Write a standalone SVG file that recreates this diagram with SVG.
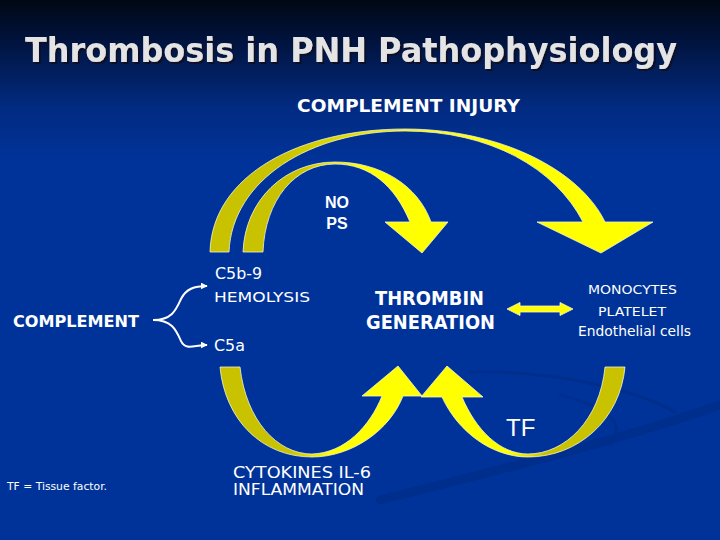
<svg xmlns="http://www.w3.org/2000/svg" width="720" height="540" viewBox="0 0 720 540">
  <defs>
    <linearGradient id="bg" x1="0" y1="0" x2="0" y2="1">
      <stop offset="0" stop-color="#000814"/>
      <stop offset="0.08" stop-color="#011440"/>
      <stop offset="0.2" stop-color="#022b82"/>
      <stop offset="0.3" stop-color="#003399"/>
      <stop offset="1" stop-color="#003399"/>
    </linearGradient>
    <linearGradient id="gOuter" gradientUnits="userSpaceOnUse" x1="280" y1="0" x2="440" y2="0">
      <stop offset="0" stop-color="#c9c200"/>
      <stop offset="1" stop-color="#ffff00"/>
    </linearGradient>
    <linearGradient id="gInner" gradientUnits="userSpaceOnUse" x1="300" y1="0" x2="360" y2="0">
      <stop offset="0" stop-color="#c9c200"/>
      <stop offset="1" stop-color="#ffff00"/>
    </linearGradient>
    <linearGradient id="gBL" gradientUnits="userSpaceOnUse" x1="290" y1="0" x2="330" y2="0">
      <stop offset="0" stop-color="#c9c200"/>
      <stop offset="1" stop-color="#ffff00"/>
    </linearGradient>
    <linearGradient id="gBR" gradientUnits="userSpaceOnUse" x1="510" y1="0" x2="545" y2="0">
      <stop offset="0" stop-color="#ffff00"/>
      <stop offset="1" stop-color="#c9c200"/>
    </linearGradient>
    <filter id="shadow" x="-5%" y="-20%" width="110%" height="150%">
      <feDropShadow dx="2" dy="2" stdDeviation="0.6" flood-color="#101020" flood-opacity="0.9"/>
    </filter>
    <marker id="wh" viewBox="0 0 10 10" refX="9" refY="5" markerWidth="7" markerHeight="7" orient="auto" markerUnits="userSpaceOnUse">
      <path d="M0,0 L10,5 L0,10 Z" fill="#ffffff"/>
    </marker>
    <style>
      .arr { stroke: #f4f4d0; stroke-width: 0.8; stroke-linejoin: miter; }
      .t { fill: #ffffff; font-family: "DejaVu Sans", Verdana, sans-serif; }
      .a { fill: #ffffff; font-family: "Liberation Sans", Arial, sans-serif; }
      .b { font-weight: bold; }
      .m { text-anchor: middle; }
    </style>
  </defs>

  <rect width="720" height="540" fill="url(#bg)"/>
  <!-- background swooshes -->
  <g id="swoosh" fill="none" stroke="#002c86" stroke-linecap="round">
    <path d="M 380,500 C 500,470 620,440 720,405" stroke-width="9" opacity="0.7"/>
    <path d="M 470,372 C 560,370 640,392 675,412" stroke-width="3" opacity="0.6"/>
    <path d="M 560,395 C 600,405 630,420 610,445" stroke-width="3" opacity="0.5"/>
  </g>

  <g id="title">
    <text x="25" y="62" font-family="DejaVu Sans, Verdana, sans-serif" font-weight="bold" font-size="34" fill="#e4e4e4" filter="url(#shadow)" textLength="652" lengthAdjust="spacingAndGlyphs">Thrombosis in PNH Pathophysiology</text>
  </g>

  <g id="connectors">
    <path id="outer-arrow" class="arr" fill="url(#gOuter)" d="M 210,252 C 212,175 300,129 405,129 C 500,129 580,170 605,222 L 653,222 L 601,253 L 537,222 L 583,222 C 555,168 490,131 405,131 C 310,131 232,180 229,252 Z"/>
    <path id="inner-arrow" class="arr" fill="url(#gInner)" d="M 243,252 C 245,200 285,162 335,162 C 380,162 418,185 431,222 L 448,222 L 422,253 L 385,222 L 410,222 C 395,186 370,164 335,164 C 295,164 265,200 263,252 Z"/>
    <path id="bottom-left-arrow" class="arr" fill="url(#gBL)" d="M 220,367 C 225,420 262,457 312,457 C 352,457 390,430 403,396 L 422,396 L 398,366 L 362,396 L 382,396 C 370,426 345,453 312,454 C 277,454 246,420 240,367 Z"/>
    <path id="bottom-right-arrow" class="arr" fill="url(#gBR)" d="M 442,397 C 458,432 492,457 528,457 C 578,457 620,420 625,367 L 605,367 C 600,420 565,454 528,454 C 500,454 476,430 462,397 L 483,397 L 447,366 L 421,397 Z"/>
    <path id="double-arrow" class="arr" fill="#ffff00" d="M 507,309 L 520,302.5 L 520,306 L 560,306 L 560,302.5 L 573,309 L 560,315.5 L 560,312 L 520,312 L 520,315.5 Z"/>
    <g id="branch" fill="none" stroke="#ffffff" stroke-width="2">
      <path d="M 153,320 C 172,320 176,310 181,299 C 186,289 194,286 207,286" marker-end="url(#wh)"/>
      <path d="M 153,320 C 172,320 176,330 181,341 C 186,351 194,345 207,345" marker-end="url(#wh)"/>
    </g>
  </g>

  <g id="complement-injury">
    <text class="t b" x="297" y="112" font-size="17" textLength="223" lengthAdjust="spacingAndGlyphs">COMPLEMENT INJURY</text>
  </g>
  <g id="no-ps">
    <text class="a b m" x="337" y="208" font-size="16">NO</text>
    <text class="a b m" x="337" y="229" font-size="16">PS</text>
  </g>
  <g id="c5b9">
    <text class="t" x="215" y="279" font-size="15" textLength="47" lengthAdjust="spacingAndGlyphs">C5b-9</text>
    <text class="t" x="214" y="302" font-size="14" textLength="96" lengthAdjust="spacingAndGlyphs">HEMOLYSIS</text>
  </g>
  <g id="complement">
    <text class="t b" x="13" y="327" font-size="16" textLength="126" lengthAdjust="spacingAndGlyphs">COMPLEMENT</text>
  </g>
  <g id="c5a">
    <text class="t" x="214" y="351" font-size="15" textLength="31" lengthAdjust="spacingAndGlyphs">C5a</text>
  </g>
  <g id="thrombin">
    <text class="t b" x="375" y="305" font-size="19" textLength="109" lengthAdjust="spacingAndGlyphs">THROMBIN</text>
    <text class="t b" x="366" y="329" font-size="19" textLength="129" lengthAdjust="spacingAndGlyphs">GENERATION</text>
  </g>
  <g id="cells">
    <text class="t" x="588" y="294" font-size="13" textLength="89" lengthAdjust="spacingAndGlyphs">MONOCYTES</text>
    <text class="t" x="598" y="316" font-size="13" textLength="68" lengthAdjust="spacingAndGlyphs">PLATELET</text>
    <text class="t" x="578" y="336" font-size="14" textLength="113" lengthAdjust="spacingAndGlyphs">Endothelial cells</text>
  </g>
  <g id="tf">
    <text class="a" x="506" y="436" font-size="24">TF</text>
  </g>
  <g id="cytokines">
    <text class="t" x="233" y="478" font-size="15" textLength="138" lengthAdjust="spacingAndGlyphs">CYTOKINES IL-6</text>
    <text class="t" x="233" y="495" font-size="15" textLength="131" lengthAdjust="spacingAndGlyphs">INFLAMMATION</text>
  </g>
  <g id="footnote">
    <text class="t" x="7" y="490" font-size="11" textLength="100" lengthAdjust="spacingAndGlyphs">TF = Tissue factor.</text>
  </g>
</svg>
